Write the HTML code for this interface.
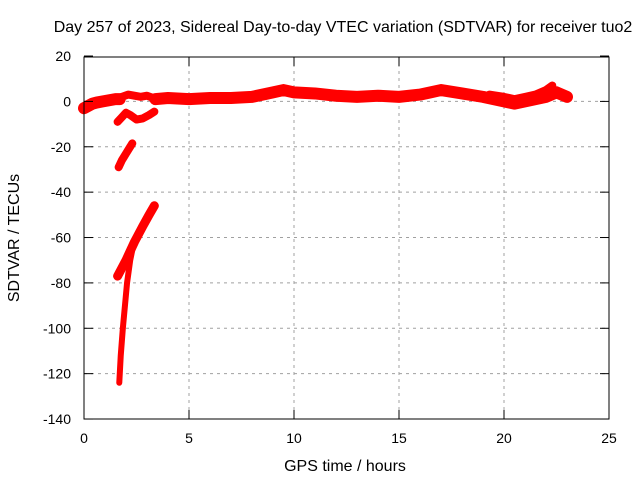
<!DOCTYPE html>
<html><head><meta charset="utf-8"><style>
body{margin:0;background:#fff}
svg{display:block;font-family:"Liberation Sans",sans-serif}
</style></head><body>
<svg id="c" width="640" height="480" viewBox="0 0 640 480">
<rect width="640" height="480" fill="#fff"/>
<text x="343" y="32" text-anchor="middle" font-size="16">Day 257 of 2023, Sidereal Day-to-day VTEC variation (SDTVAR) for receiver tuo2</text>
<text x="345" y="471" text-anchor="middle" font-size="16">GPS time / hours</text>
<text transform="translate(19,238) rotate(-90)" text-anchor="middle" font-size="16">SDTVAR / TECUs</text>
<g id="grid"></g>
<g id="series"></g>
<rect x="84" y="57" width="525" height="362" fill="none" stroke="#000" stroke-width="1"/>
<g id="ticks"></g>
</svg>
<script>
const xTicks=[0,5,10,15,20,25];
const yTicks=[20,0,-20,-40,-60,-80,-100,-120,-140];
const s1T=[0,0.2,0.4,0.6,0.9,1.2,1.5,1.7];
const s1V=[-3,-2,-1,-0.5,0,0.5,1,1];
const s2T=[1.8,2.1,2.4,2.7,3.0,3.3];
const s2V=[2,3,2.5,2,2.5,1.5];
const s3T=[1.6,1.8,2.0,2.2,2.5,2.8,3.1,3.35];
const s3V=[-9,-7,-5,-6,-8,-7.5,-6,-4.5];
const s4T=[1.65,1.8,2.0,2.2,2.3];
const s4V=[-29,-26,-23,-20,-18.5];
const s5T=[1.6,2.0,2.4,2.8,3.1,3.35];
const s5V=[-77,-70,-62,-55,-50,-46];
const s6T=[1.68,1.75,1.85,1.95,2.05,2.2,2.4];
const s6V=[-124,-112,-100,-90,-80,-70,-61];
const mT=[3.4,4,5,6,7,8,9,9.5,10,11,12,13,14,15,16,16.5,17,18,19,20,20.5,21,22,22.5,23];
const mV=[1,1.5,1,1.5,1.5,2,4,5,4,3.5,2.5,2,2.5,2,3,4,5,3.5,2,0,-1,0,2,4,2];
const lT=[19.3,20,20.5,21,21.5,22,22.3];
const lV=[3,2,1,2,3,5,7];
const X=v=>84+v*21, Y=v=>101.4-v*2.2688;
const NS='http://www.w3.org/2000/svg';
const g=document.getElementById('grid'),tk=document.getElementById('ticks'),se=document.getElementById('series');
function mk(tag,a,p){const e=document.createElementNS(NS,tag);for(const k in a)e.setAttribute(k,a[k]);p.appendChild(e);return e;}
xTicks.forEach(t=>{const x=X(t);
if(t>0&&t<25){const l=mk('line',{x1:x,y1:57,x2:x,y2:419,stroke:'#a0a0a0','stroke-dasharray':'3,4'},g);

}
mk('line',{x1:x,y1:419,x2:x,y2:410,stroke:'#000'},tk);mk('line',{x1:x,y1:57,x2:x,y2:66,stroke:'#000'},tk);
const tx=mk('text',{x:x,y:443,'text-anchor':'middle','font-size':14},tk);tx.textContent=t;

});
yTicks.forEach(t=>{const y=Y(t);
if(t<20&&t>-140){const l=mk('line',{x1:84,y1:y,x2:609,y2:y,stroke:'#a0a0a0','stroke-dasharray':'3,4'},g);

}
mk('line',{x1:84,y1:y,x2:93,y2:y,stroke:'#000'},tk);mk('line',{x1:609,y1:y,x2:600,y2:y,stroke:'#000'},tk);
const tx=mk('text',{x:71,y:y+5,'text-anchor':'end','font-size':14},tk);tx.textContent=t;

});
function draw(T,V,w,name){const pts=T.map((t,i)=>X(t)+','+Y(V[i])).join(' ');
const p=mk('polyline',{points:pts,fill:'none',stroke:'#f00','stroke-width':w,'stroke-linejoin':'round','stroke-linecap':'round'},se);

}
draw(s1T,s1V,12,'segment-early');
draw(s2T,s2V,8,'segment-upper-arc');
draw(s3T,s3V,8,'segment-lower-arc');
draw(s4T,s4V,8,'segment-minus-25');
draw(s5T,s5V,9,'segment-minus-60');
draw(s6T,s6V,6,'segment-minus-100');
draw(mT,mV,12,'segment-main');
draw(lT,lV,8,'segment-loop');
</script>
</body></html>
